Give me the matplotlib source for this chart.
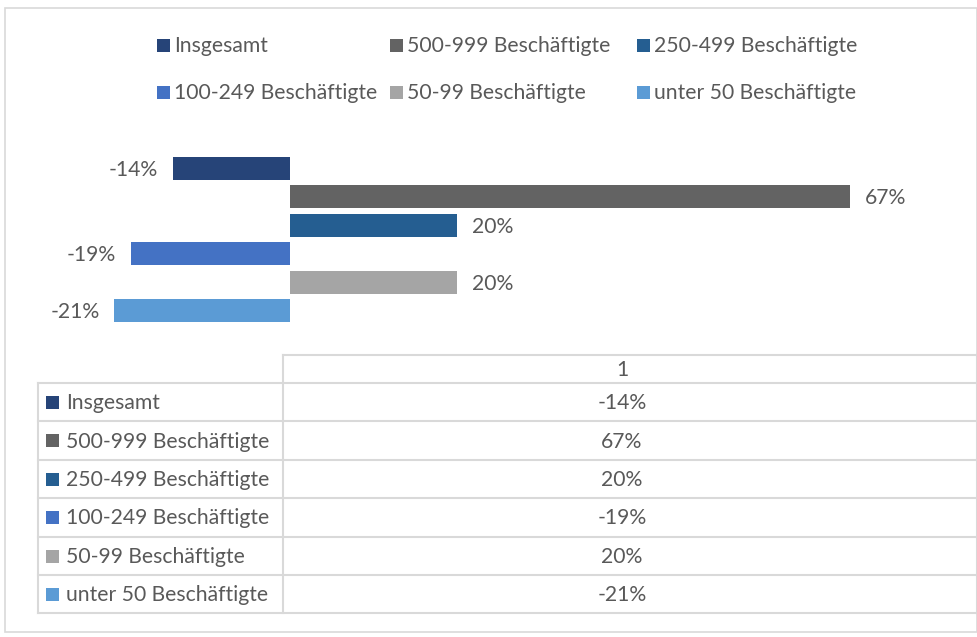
import matplotlib.pyplot as plt
from matplotlib.patches import Rectangle

categories = ["Insgesamt", "500-999 Beschäftigte", "250-499 Beschäftigte",
              "100-249 Beschäftigte", "50-99 Beschäftigte", "unter 50 Beschäftigte"]
values = [-14, 67, 20, -19, 20, -21]
colors = ["#264478", "#636363", "#255E91", "#4472C4", "#A5A5A5", "#5B9BD5"]
header = "1"

plt.rcParams['font.family'] = ['Lato', 'DejaVu Sans']
TXT = "#595959"
GRID = "#d9d9d9"
FS = 15.2

W, H = 978, 637
fig = plt.figure(figsize=(W / 100, H / 100), dpi=100)

# overlay axes in pixel coordinates for frame, legend and table
ov = fig.add_axes([0, 0, 1, 1])
ov.set_xlim(0, W)
ov.set_ylim(H, 0)
ov.axis('off')

ov.add_patch(Rectangle((5, 8), W - 6, 624, fill=False, edgecolor=GRID, lw=1.2))

# legend (Excel style, 3 columns)
leg_x = [157, 390, 637]
leg_y = [45, 92]
for i, (cat, col) in enumerate(zip(categories, colors)):
    x = leg_x[i % 3]
    y = leg_y[i // 3]
    ov.add_patch(Rectangle((x, y - 6.5), 13, 13, color=col, lw=0))
    ov.text(x + 17, y + 1, cat, color=TXT, fontsize=FS, va='center', ha='left')

# bar chart axes: zero at x=290 px, 8.36 px per percent
px_per = 8.36
ax_l, ax_r, ax_t, ax_b = 100, 900, 150, 330
ax = fig.add_axes([ax_l / W, 1 - ax_b / H, (ax_r - ax_l) / W, (ax_b - ax_t) / H])
ax.set_xlim((ax_l - 290) / px_per, (ax_r - 290) / px_per)
row_px = 28.4
ax.set_ylim((ax_b - 168.5) / row_px, -(168.5 - ax_t) / row_px)
ypos = list(range(len(values)))
ax.barh(ypos, values, height=0.81, color=colors)
for y, v in zip(ypos, values):
    off = 15 / px_per
    if v < 0:
        ax.text(v - off, y + 0.05, f"{v}%", ha='right', va='center', color=TXT, fontsize=FS)
    else:
        ax.text(v + off, y + 0.05, f"{v}%", ha='left', va='center', color=TXT, fontsize=FS)
ax.axis('off')

# data table below
tab_l, tab_m, tab_r = 38, 283, 977
head_t = 355
row_edges = [383, 421, 460, 498, 537, 575, 613]
ov.plot([tab_m, tab_r], [head_t, head_t], color=GRID, lw=1.5)
for ye in row_edges:
    ov.plot([tab_l, tab_r], [ye, ye], color=GRID, lw=1.5)
ov.plot([tab_l, tab_l], [row_edges[0], row_edges[-1]], color=GRID, lw=1.5)
ov.plot([tab_m, tab_m], [head_t, row_edges[-1]], color=GRID, lw=1.5)
ov.plot([tab_r, tab_r], [head_t, row_edges[-1]], color=GRID, lw=1.5)
ov.text((tab_m + tab_r) / 2 - 8, (head_t + row_edges[0]) / 2 + 1, header,
        ha='center', va='center', color=TXT, fontsize=FS)
for i, (cat, col, v) in enumerate(zip(categories, colors, values)):
    yc = (row_edges[i] + row_edges[i + 1]) / 2
    ov.add_patch(Rectangle((46, yc - 6.5), 13, 13, color=col, lw=0))
    ov.text(66, yc + 1, cat, ha='left', va='center', color=TXT, fontsize=FS)
    ov.text((tab_m + tab_r) / 2 - 8, yc + 1, f"{v}%", ha='center', va='center',
            color=TXT, fontsize=FS)

fig.savefig("out.png", dpi=100)
